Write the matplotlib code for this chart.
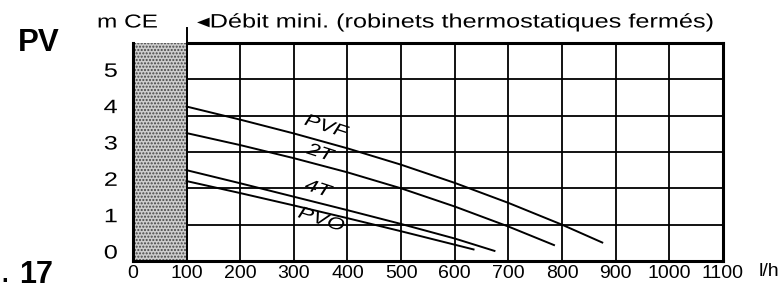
import matplotlib
matplotlib.use("Agg")
import matplotlib.pyplot as plt
import matplotlib.transforms as mtransforms
from matplotlib.patheffects import AbstractPathEffect
from matplotlib.transforms import Affine2D

plt.rcParams['font.family'] = ['Liberation Sans', 'DejaVu Sans']

# Data (flow l/h, head m CE)
pvf_x = [100, 200, 300, 400, 500, 600, 700, 800, 875]
pvf_y = [4.25, 3.89, 3.51, 3.10, 2.65, 2.15, 1.60, 1.00, 0.51]
t2_x = [100, 200, 300, 400, 500, 600, 700, 785]
t2_y = [3.52, 3.19, 2.83, 2.44, 2.00, 1.50, 0.95, 0.44]
t4_x = [100, 200, 300, 400, 500, 600, 674]
t4_y = [2.50, 2.14, 1.77, 1.40, 1.02, 0.62, 0.28]
pvo_x = [100, 200, 300, 400, 500, 600, 635]
pvo_y = [2.20, 1.87, 1.53, 1.18, 0.82, 0.45, 0.32]

curve_labels = ["PVF", "2T", "4T", "PVO"]
label_x = [360, 349, 345, 351]
label_y = [3.69, 2.97, 1.98, 1.13]

x_ticks = [0, 100, 200, 300, 400, 500, 600, 700, 800, 900, 1000, 1100]
y_ticks = [0, 1, 2, 3, 4, 5]
min_flow = 100


class HStretch(AbstractPathEffect):
    """Widen glyphs horizontally (the scanned original has wide lettering)."""
    def __init__(self, sx=1.3, anchor='left'):
        super().__init__()
        self.sx = sx
        self.anchor = anchor

    def draw_path(self, renderer, gc, tpath, affine, rgbFace=None):
        ext = tpath.get_extents()
        if self.anchor == 'center':
            c = (ext.x0 + ext.x1) / 2
        elif self.anchor == 'right':
            c = ext.x1
        else:
            c = 0
        t = Affine2D().translate(-c, 0).scale(self.sx, 1).translate(c, 0)
        renderer.draw_path(gc, tpath, t + affine, rgbFace)


fig = plt.figure(figsize=(7.82, 2.94), dpi=100)
ax = fig.add_axes([0.170, 0.112, 0.7545, 0.742])
ax.set_xlim(0, 1100)
ax.set_ylim(0, 6)

# grid
for xv in x_ticks[1:-1]:
    ax.plot([xv, xv], [0, 6], color='black', lw=1.3, zorder=1)
for yv in y_ticks[1:]:
    ax.plot([min_flow, 1100], [yv, yv], color='black', lw=1.3, zorder=1)
# vertical line at min flow extends above the frame
ax.plot([min_flow, min_flow], [0, 6.4], color='black', lw=1.4, zorder=3, clip_on=False)

# shaded min flow region
ax.fill_between([0, min_flow], 0, 6, facecolor='#cdcdcd', hatch='.....',
                edgecolor='#444444', linewidth=0, zorder=2)

# curves
for xs, ys in [(pvf_x, pvf_y), (t2_x, t2_y), (t4_x, t4_y), (pvo_x, pvo_y)]:
    ax.plot(xs, ys, color='black', lw=1.4, zorder=4)

for lab, lx, ly in zip(curve_labels, label_x, label_y):
    ax.text(lx, ly, lab, fontsize=12.5, style='italic', rotation=-18,
            ha='center', va='center', zorder=5,
            path_effects=[HStretch(1.3, 'center')])

for s in ax.spines.values():
    s.set_linewidth(2.2)
ax.spines['top'].set_bounds(min_flow, 1100)

ax.set_xticks(x_ticks)
ax.set_xticklabels([str(v) for v in x_ticks])
ax.set_yticks(y_ticks)
ax.set_yticklabels([str(v) for v in y_ticks])
ax.tick_params(length=0, labelsize=14)
ax.tick_params(axis='y', pad=11)
ax.tick_params(axis='x', pad=3)
off = mtransforms.ScaledTranslation(0, 9 / 100, fig.dpi_scale_trans)
for lbl in ax.get_yticklabels():
    lbl.set_transform(lbl.get_transform() + off)
    lbl.set_path_effects([HStretch(1.3, 'right')])

fig.text(759 / 782, 1 - 271 / 294, "l/h", fontsize=14, ha='left', va='center')

fig.text(18 / 782, 1 - 43 / 294, "PV", fontsize=22.5, fontweight='bold', ha='left', va='center')
fig.text(1 / 782, 1 - 275 / 294, ".", fontsize=17, fontweight='bold', ha='left', va='center')
fig.text(19 / 782, 1 - 275 / 294, "17", fontsize=22, fontweight='bold', ha='left', va='center')
fig.text(97 / 782, 1 - 23 / 294, "m CE", fontsize=13.5, ha='left', va='center',
         path_effects=[HStretch(1.3)])
fig.text(197 / 782, 1 - 23 / 294, "◂Débit mini. (robinets thermostatiques fermés)",
         fontsize=14, ha='left', va='center', path_effects=[HStretch(1.3)])

fig.savefig("out.png", dpi=100)
